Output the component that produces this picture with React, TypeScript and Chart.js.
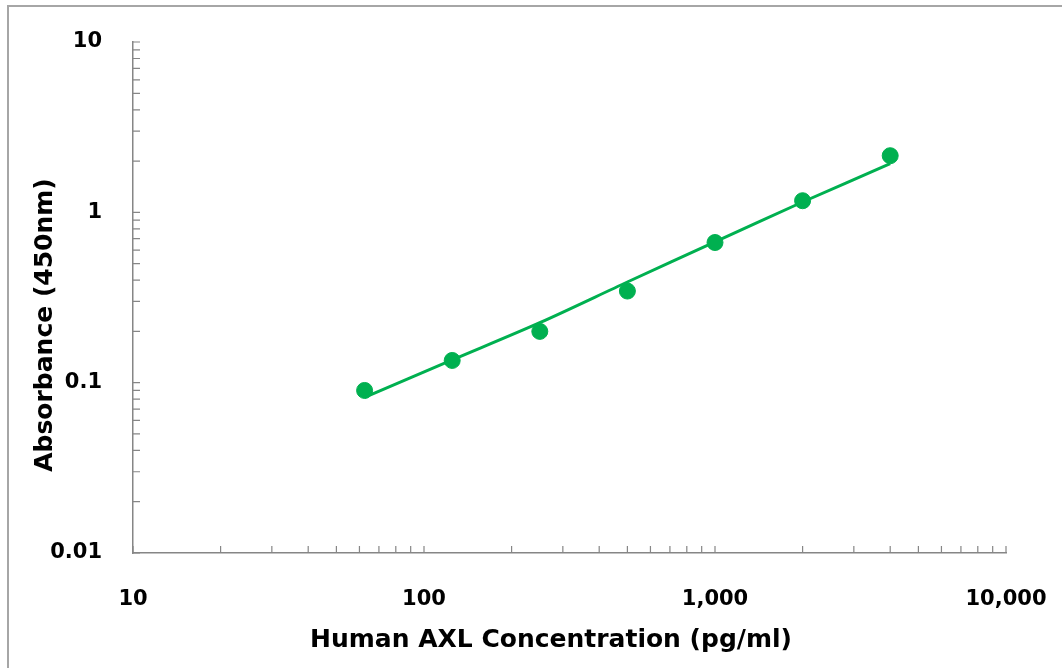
import { useEffect, useRef } from 'react';
import { Chart, registerables, Plugin } from 'chart.js';

Chart.register(...registerables);

// standard concentrations (pg/ml) and measured OD at 450nm
const CONCENTRATION = [62.5, 125, 250, 500, 1000, 2000, 4000];
const ABSORBANCE = [0.09, 0.135, 0.2, 0.345, 0.665, 1.17, 2.15];
const FIT_CURVE = [0.082, 0.136, 0.225, 0.39, 0.67, 1.15, 1.93];

const X_DECADES = [10, 100, 1000, 10000];
const Y_DECADES = [0.01, 0.1, 1, 10];

const X_TITLE = 'Human AXL Concentration (pg/ml)';
const Y_TITLE = 'Absorbance (450nm)';

const GREEN = '#00B050';
const AXIS_GREY = '#868686';
const FONT = "'DejaVu Sans', sans-serif";

// Excel-like minor ticks pointing into the plot, 2..9 per decade
const minorTicks: Plugin = {
  id: 'minorTicks',
  afterDraw(chart) {
    const { ctx, scales } = chart;
    const x = scales.x;
    const y = scales.y;
    const len = 7;
    ctx.save();
    ctx.strokeStyle = AXIS_GREY;
    ctx.lineWidth = 1.2;
    ctx.beginPath();
    X_DECADES.forEach((d, i) => {
      const last = i === X_DECADES.length - 1;
      for (let m = 1; m <= (last ? 1 : 9); m++) {
        const px = x.getPixelForValue(d * m);
        ctx.moveTo(px, y.bottom);
        ctx.lineTo(px, y.bottom - len);
      }
    });
    Y_DECADES.forEach((d, i) => {
      const last = i === Y_DECADES.length - 1;
      for (let m = 1; m <= (last ? 1 : 9); m++) {
        const py = y.getPixelForValue(d * m);
        ctx.moveTo(x.left, py);
        ctx.lineTo(x.left + len, py);
      }
    });
    ctx.stroke();
    ctx.restore();
  },
};

// axis titles, placed like the Excel original (slightly off the axis centre)
const axisTitles: Plugin = {
  id: 'axisTitles',
  afterDraw(chart) {
    const { ctx } = chart;
    ctx.save();
    ctx.fillStyle = '#000';
    ctx.font = `bold 25px ${FONT}`;
    ctx.textAlign = 'center';
    ctx.textBaseline = 'alphabetic';
    ctx.fillText(X_TITLE, 551, 647);
    ctx.translate(52, 325);
    ctx.rotate(-Math.PI / 2);
    ctx.fillText(Y_TITLE, 0, 0);
    ctx.restore();
  },
};

// invisible tick marks are used as the gap between axis and labels,
// so the label gap does not eat into the plot area
const hiddenGrid = (gap: number) => ({
  display: true,
  drawOnChartArea: false,
  drawTicks: true,
  tickLength: gap,
  color: 'rgba(0,0,0,0)',
});

export default function App() {
  const canvasRef = useRef<HTMLCanvasElement>(null);

  useEffect(() => {
    if (!canvasRef.current) return;

    const chart = new Chart(canvasRef.current, {
      type: 'scatter',
      data: {
        datasets: [
          {
            label: 'Fit',
            data: CONCENTRATION.map((c, i) => ({ x: c, y: FIT_CURVE[i] })),
            showLine: true,
            borderColor: GREEN,
            borderWidth: 3,
            pointRadius: 0,
            tension: 0.3,
            order: 2,
          },
          {
            label: 'Standards',
            data: CONCENTRATION.map((c, i) => ({ x: c, y: ABSORBANCE[i] })),
            backgroundColor: GREEN,
            borderColor: GREEN,
            pointRadius: 8,
            order: 1,
          },
        ],
      },
      options: {
        animation: false,
        responsive: true,
        maintainAspectRatio: false,
        layout: { padding: { left: 33, right: 56, top: 42, bottom: 35 } },
        plugins: {
          legend: { display: false },
          tooltip: { enabled: false },
        },
        scales: {
          x: {
            type: 'logarithmic',
            min: 10,
            max: 10000,
            afterBuildTicks: (axis) => {
              axis.ticks = X_DECADES.map((v) => ({ value: v }));
            },
            afterFit: (axis) => {
              axis.height = 80;
            },
            grid: hiddenGrid(34),
            border: { display: true, color: AXIS_GREY, width: 1.5 },
            ticks: {
              autoSkip: false,
              maxRotation: 0,
              padding: 0,
              color: '#000',
              font: { family: FONT, size: 21, weight: 'bold' },
              callback: (v) => Number(v).toLocaleString('en-US'),
            },
          },
          y: {
            type: 'logarithmic',
            min: 0.01,
            max: 10,
            afterBuildTicks: (axis) => {
              axis.ticks = Y_DECADES.map((v) => ({ value: v }));
            },
            afterFit: (axis) => {
              axis.width = 100;
            },
            grid: hiddenGrid(31),
            border: { display: true, color: AXIS_GREY, width: 1.5 },
            ticks: {
              autoSkip: false,
              padding: 0,
              color: '#000',
              font: { family: FONT, size: 21, weight: 'bold' },
              callback: (v) => String(Number(v)),
            },
          },
        },
      },
      plugins: [minorTicks, axisTitles],
    });

    return () => chart.destroy();
  }, []);

  return (
    <div style={{ position: 'fixed', left: 0, top: 0, width: 1062, height: 668, background: '#fff', overflow: 'hidden' }}>
      <div
        style={{
          position: 'absolute',
          left: 7,
          top: 5,
          width: 1100,
          height: 700,
          borderTop: '2px solid #a6a6a6',
          borderLeft: '2px solid #a6a6a6',
        }}
      />
      <div style={{ position: 'absolute', left: 0, top: 0, width: 1062, height: 668 }}>
        <canvas ref={canvasRef} />
      </div>
    </div>
  );
}
